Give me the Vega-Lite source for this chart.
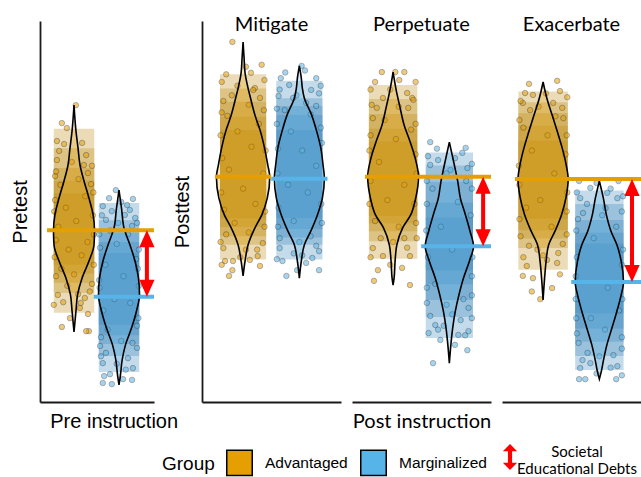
{
"$schema": "https://vega.github.io/schema/vega-lite/v6.json",
"padding": {"left": 10, "top": 15, "right": 0, "bottom": 0},
"config": {
  "view": {"stroke": null},
  "axis": {"labels": false, "ticks": false, "grid": false, "domainColor": "#1a1a1a", "domainWidth": 1.8, "titleFont": "Liberation Sans", "titleFontSize": 20, "titleFontWeight": "normal", "titleColor": "black"}
},
"datasets": {
  "v1": [
    {"g":"A","y":77.95,"lo":1,"hi":1},{"g":"A","y":71.1,"lo":0.956,"hi":1.044},{"g":"A","y":66.7,"lo":0.911,"hi":1.089},{"g":"A","y":62.2,"lo":0.867,"hi":1.133},{"g":"A","y":58,"lo":0.778,"hi":1.222},{"g":"A","y":53.5,"lo":0.667,"hi":1.333},{"g":"A","y":49.3,"lo":0.578,"hi":1.422},{"g":"A","y":45.1,"lo":0.544,"hi":1.456},{"g":"A","y":41.2,"lo":0.556,"hi":1.444},{"g":"A","y":37,"lo":0.667,"hi":1.333},{"g":"A","y":32.5,"lo":0.822,"hi":1.178},{"g":"A","y":28.1,"lo":0.922,"hi":1.078},{"g":"A","y":23.9,"lo":0.956,"hi":1.044},{"g":"A","y":18.4,"lo":1,"hi":1},
    {"g":"M","y":55.6,"lo":2,"hi":2},{"g":"M","y":50.9,"lo":1.944,"hi":2.056},{"g":"M","y":45.7,"lo":1.889,"hi":2.111},{"g":"M","y":41.2,"lo":1.756,"hi":2.244},{"g":"M","y":37,"lo":1.644,"hi":2.356},{"g":"M","y":32.5,"lo":1.567,"hi":2.433},{"g":"M","y":28.1,"lo":1.544,"hi":2.456},{"g":"M","y":23.9,"lo":1.611,"hi":2.389},{"g":"M","y":19.4,"lo":1.722,"hi":2.278},{"g":"M","y":15,"lo":1.856,"hi":2.144},{"g":"M","y":10.8,"lo":1.933,"hi":2.067},{"g":"M","y":7.1,"lo":1.967,"hi":2.033},{"g":"M","y":4.5,"lo":2,"hi":2}
  ],
  "v2": [
    {"g":"A","y":94.5,"lo":1,"hi":1},{"g":"A","y":90.3,"lo":0.982,"hi":1.018},{"g":"A","y":86.4,"lo":0.965,"hi":1.035},{"g":"A","y":82.4,"lo":0.912,"hi":1.088},{"g":"A","y":79.8,"lo":0.868,"hi":1.132},{"g":"A","y":75.3,"lo":0.789,"hi":1.211},{"g":"A","y":71.1,"lo":0.693,"hi":1.307},{"g":"A","y":66.7,"lo":0.619,"hi":1.381},{"g":"A","y":62.2,"lo":0.561,"hi":1.439},{"g":"A","y":59.1,"lo":0.526,"hi":1.474},{"g":"A","y":53.5,"lo":0.57,"hi":1.43},{"g":"A","y":49.1,"lo":0.667,"hi":1.333},{"g":"A","y":45.7,"lo":0.789,"hi":1.211},{"g":"A","y":41.2,"lo":0.912,"hi":1.088},{"g":"A","y":37,"lo":0.965,"hi":1.035},{"g":"A","y":33.1,"lo":1,"hi":1},
    {"g":"M","y":88.2,"lo":2,"hi":2},{"g":"M","y":85,"lo":1.965,"hi":2.035},{"g":"M","y":82.4,"lo":1.947,"hi":2.053},{"g":"M","y":79.8,"lo":1.912,"hi":2.088},{"g":"M","y":75.3,"lo":1.781,"hi":2.219},{"g":"M","y":71.1,"lo":1.693,"hi":2.307},{"g":"M","y":66.7,"lo":1.619,"hi":2.381},{"g":"M","y":62.2,"lo":1.579,"hi":2.421},{"g":"M","y":58.8,"lo":1.556,"hi":2.444},{"g":"M","y":53.5,"lo":1.591,"hi":2.409},{"g":"M","y":49.1,"lo":1.679,"hi":2.321},{"g":"M","y":44.9,"lo":1.795,"hi":2.205},{"g":"M","y":41.2,"lo":1.912,"hi":2.088},{"g":"M","y":37,"lo":1.965,"hi":2.035},{"g":"M","y":32.5,"lo":2,"hi":2}
  ],
  "v3": [
    {"g":"A","y":86.6,"lo":1,"hi":1},{"g":"A","y":81.6,"lo":0.941,"hi":1.059},{"g":"A","y":77.2,"lo":0.875,"hi":1.125},{"g":"A","y":72.7,"lo":0.804,"hi":1.196},{"g":"A","y":68.5,"lo":0.702,"hi":1.298},{"g":"A","y":64,"lo":0.607,"hi":1.393},{"g":"A","y":59.1,"lo":0.548,"hi":1.452},{"g":"A","y":53.5,"lo":0.598,"hi":1.402},{"g":"A","y":49.1,"lo":0.687,"hi":1.313},{"g":"A","y":45.7,"lo":0.83,"hi":1.17},{"g":"A","y":41.2,"lo":0.934,"hi":1.066},{"g":"A","y":37,"lo":0.964,"hi":1.036},{"g":"A","y":32.5,"lo":0.982,"hi":1.018},{"g":"A","y":30.7,"lo":1,"hi":1},
    {"g":"M","y":68.2,"lo":2,"hi":2},{"g":"M","y":62.2,"lo":1.911,"hi":2.089},{"g":"M","y":58,"lo":1.852,"hi":2.148},{"g":"M","y":53.5,"lo":1.804,"hi":2.196},{"g":"M","y":49.1,"lo":1.714,"hi":2.286},{"g":"M","y":44.9,"lo":1.634,"hi":2.366},{"g":"M","y":40.9,"lo":1.571,"hi":2.429},{"g":"M","y":37,"lo":1.643,"hi":2.357},{"g":"M","y":32.5,"lo":1.75,"hi":2.25},{"g":"M","y":28.1,"lo":1.83,"hi":2.17},{"g":"M","y":23.9,"lo":1.893,"hi":2.107},{"g":"M","y":19.4,"lo":1.941,"hi":2.059},{"g":"M","y":15,"lo":1.973,"hi":2.027},{"g":"M","y":10.2,"lo":2,"hi":2}
  ],
  "v4": [
    {"g":"A","y":84,"lo":1,"hi":1},{"g":"A","y":79.8,"lo":0.934,"hi":1.066},{"g":"A","y":75.3,"lo":0.839,"hi":1.161},{"g":"A","y":71.1,"lo":0.75,"hi":1.25},{"g":"A","y":66.7,"lo":0.661,"hi":1.339},{"g":"A","y":62.2,"lo":0.589,"hi":1.411},{"g":"A","y":58.5,"lo":0.554,"hi":1.446},{"g":"A","y":53.5,"lo":0.595,"hi":1.405},{"g":"A","y":49.1,"lo":0.673,"hi":1.327},{"g":"A","y":44.9,"lo":0.786,"hi":1.214},{"g":"A","y":41.2,"lo":0.902,"hi":1.098},{"g":"A","y":37,"lo":0.946,"hi":1.054},{"g":"A","y":32.5,"lo":0.973,"hi":1.027},{"g":"A","y":26.8,"lo":1,"hi":1},
    {"g":"M","y":58,"lo":2,"hi":2},{"g":"M","y":53.5,"lo":1.929,"hi":2.071},{"g":"M","y":49.1,"lo":1.875,"hi":2.125},{"g":"M","y":44.9,"lo":1.795,"hi":2.205},{"g":"M","y":41.2,"lo":1.687,"hi":2.313},{"g":"M","y":37,"lo":1.612,"hi":2.388},{"g":"M","y":31.5,"lo":1.571,"hi":2.429},{"g":"M","y":28.1,"lo":1.612,"hi":2.388},{"g":"M","y":23.9,"lo":1.687,"hi":2.313},{"g":"M","y":19.4,"lo":1.777,"hi":2.223},{"g":"M","y":15,"lo":1.866,"hi":2.134},{"g":"M","y":10.8,"lo":1.929,"hi":2.071},{"g":"M","y":8.1,"lo":1.964,"hi":2.036},{"g":"M","y":6,"lo":2,"hi":2}
  ],
  "c1": [
    {"g":"A","x1":0.55,"x2":1.45,"y1":23.4,"y2":71.7},{"g":"A","x1":0.55,"x2":1.45,"y1":28.6,"y2":66.6},{"g":"A","x1":0.55,"x2":1.45,"y1":31.3,"y2":61.4},{"g":"A","x1":0.55,"x2":1.45,"y1":33.7,"y2":58.1},{"g":"A","x1":0.55,"x2":1.45,"y1":36,"y2":54.8},
    {"g":"M","x1":1.55,"x2":2.45,"y1":7.9,"y2":52.2},{"g":"M","x1":1.55,"x2":2.45,"y1":12.1,"y2":47.7},{"g":"M","x1":1.55,"x2":2.45,"y1":15.2,"y2":44.4},{"g":"M","x1":1.55,"x2":2.45,"y1":17.5,"y2":42},{"g":"M","x1":1.55,"x2":2.45,"y1":20.3,"y2":39.1}
  ],
  "c2": [
    {"g":"A","x1":0.59,"x2":1.41,"y1":37.4,"y2":86},{"g":"A","x1":0.59,"x2":1.41,"y1":41.3,"y2":82.3},{"g":"A","x1":0.59,"x2":1.41,"y1":43.5,"y2":78.8},{"g":"A","x1":0.59,"x2":1.41,"y1":45.9,"y2":74.9},{"g":"A","x1":0.59,"x2":1.41,"y1":48.2,"y2":71.4},
    {"g":"M","x1":1.59,"x2":2.41,"y1":37.4,"y2":84.3},{"g":"M","x1":1.59,"x2":2.41,"y1":41.3,"y2":79.7},{"g":"M","x1":1.59,"x2":2.41,"y1":43.2,"y2":77.7},{"g":"M","x1":1.59,"x2":2.41,"y1":45.4,"y2":75.3},{"g":"M","x1":1.59,"x2":2.41,"y1":48.3,"y2":71.4}
  ],
  "c3": [
    {"g":"A","x1":0.57,"x2":1.43,"y1":37.6,"y2":83.2},{"g":"A","x1":0.57,"x2":1.43,"y1":42.2,"y2":79.5},{"g":"A","x1":0.57,"x2":1.43,"y1":44.8,"y2":75.6},{"g":"A","x1":0.57,"x2":1.43,"y1":46.9,"y2":71.7},{"g":"A","x1":0.57,"x2":1.43,"y1":48.8,"y2":68.4},
    {"g":"M","x1":1.58,"x2":2.42,"y1":16.8,"y2":65.5},{"g":"M","x1":1.58,"x2":2.42,"y1":22.3,"y2":62.1},{"g":"M","x1":1.58,"x2":2.42,"y1":26.8,"y2":57.8},{"g":"M","x1":1.58,"x2":2.42,"y1":30.9,"y2":52.3},{"g":"M","x1":1.58,"x2":2.42,"y1":34.6,"y2":48.4}
  ],
  "c4": [
    {"g":"A","x1":0.56,"x2":1.44,"y1":34.7,"y2":81.5},{"g":"A","x1":0.56,"x2":1.44,"y1":40.4,"y2":78.7},{"g":"A","x1":0.56,"x2":1.44,"y1":42.9,"y2":75.8},{"g":"A","x1":0.56,"x2":1.44,"y1":45.1,"y2":72.5},{"g":"A","x1":0.56,"x2":1.44,"y1":48.1,"y2":68.6},
    {"g":"M","x1":1.57,"x2":2.43,"y1":8.4,"y2":55.5},{"g":"M","x1":1.57,"x2":2.43,"y1":12.1,"y2":52},{"g":"M","x1":1.57,"x2":2.43,"y1":15.8,"y2":47.8},{"g":"M","x1":1.57,"x2":2.43,"y1":19.3,"y2":44.4},{"g":"M","x1":1.57,"x2":2.43,"y1":23.3,"y2":41.6}
  ],
  "p1": [
    {"g":"A","x":1.04,"y":77.9},{"g":"A","x":0.73,"y":73.2},{"g":"A","x":0.84,"y":71.9},{"g":"A","x":0.62,"y":68.5},{"g":"A","x":0.78,"y":67.7},{"g":"A","x":1.18,"y":68},{"g":"A","x":0.67,"y":65.9},{"g":"A","x":1.27,"y":64.8},{"g":"A","x":0.62,"y":63.5},{"g":"A","x":1.22,"y":62.2},{"g":"A","x":1.31,"y":60.1},{"g":"A","x":0.58,"y":59.3},{"g":"A","x":1.38,"y":57.2},{"g":"A","x":0.73,"y":19.7},{"g":"A","x":1.33,"y":18.6},{"g":"A","x":1.27,"y":18.6},{"g":"A","x":0.91,"y":22},{"g":"A","x":1.13,"y":24.7},{"g":"A","x":1.31,"y":23.1},{"g":"A","x":0.76,"y":26.2},{"g":"A","x":1.24,"y":27.3},{"g":"A","x":0.64,"y":28.1},{"g":"A","x":1.09,"y":28.3},{"g":"A","x":0.56,"y":50},{"g":"A","x":1.44,"y":44},{"g":"A","x":0.57,"y":38},{"g":"A","x":1.43,"y":55},{"g":"A","x":0.6,"y":33},{"g":"A","x":1.4,"y":31},
    {"g":"A","x":0.6,"y":60.5},{"g":"A","x":0.95,"y":63},{"g":"A","x":1.4,"y":62},{"g":"A","x":0.7,"y":57},{"g":"A","x":1.1,"y":58.5},{"g":"A","x":0.58,"y":53},{"g":"A","x":1.25,"y":54},{"g":"A","x":0.82,"y":51},{"g":"A","x":1.42,"y":49},{"g":"A","x":0.65,"y":46},{"g":"A","x":1.05,"y":47.5},{"g":"A","x":1.3,"y":42},{"g":"A","x":0.88,"y":40},{"g":"A","x":0.6,"y":42.5},{"g":"A","x":1.17,"y":38.5},{"g":"A","x":1.44,"y":36},{"g":"A","x":0.72,"y":35},{"g":"A","x":1,"y":33.5},{"g":"A","x":1.35,"y":29},{"g":"A","x":0.85,"y":30.5},{"g":"A","x":0.55,"y":25.5},{"g":"A","x":1.15,"y":26},
    {"g":"M","x":1.93,"y":55.6},{"g":"M","x":1.78,"y":53.5},{"g":"M","x":2.31,"y":53.3},{"g":"M","x":1.64,"y":51.4},{"g":"M","x":2.18,"y":51.7},{"g":"M","x":2.24,"y":50.4},{"g":"M","x":1.84,"y":50.1},{"g":"M","x":2.13,"y":49.1},{"g":"M","x":2.36,"y":48.3},{"g":"M","x":1.71,"y":47.8},{"g":"M","x":1.98,"y":47},{"g":"M","x":2.29,"y":46.2},{"g":"M","x":1.64,"y":5},{"g":"M","x":1.84,"y":4.7},{"g":"M","x":1.67,"y":6.8},{"g":"M","x":2.29,"y":5.8},{"g":"M","x":2.09,"y":6},{"g":"M","x":1.8,"y":7.3},{"g":"M","x":2.31,"y":8.9},{"g":"M","x":1.64,"y":10.2},{"g":"M","x":2.2,"y":11.5},{"g":"M","x":1.71,"y":12.9},{"g":"M","x":2.4,"y":14.2},{"g":"M","x":1.58,"y":14.7},{"g":"M","x":1.56,"y":44},{"g":"M","x":2.44,"y":40},{"g":"M","x":1.57,"y":30},{"g":"M","x":2.43,"y":22},{"g":"M","x":1.6,"y":17},{"g":"M","x":2.42,"y":35},
    {"g":"M","x":1.62,"y":49},{"g":"M","x":2.05,"y":52.5},{"g":"M","x":2.4,"y":47},{"g":"M","x":1.8,"y":45},{"g":"M","x":2.2,"y":44},{"g":"M","x":1.58,"y":40.5},{"g":"M","x":1.95,"y":41.5},{"g":"M","x":2.38,"y":37.5},{"g":"M","x":1.7,"y":36},{"g":"M","x":2.1,"y":33},{"g":"M","x":1.56,"y":32},{"g":"M","x":2.44,"y":30.5},{"g":"M","x":1.9,"y":27},{"g":"M","x":2.25,"y":26},{"g":"M","x":1.65,"y":24},{"g":"M","x":2.4,"y":20},{"g":"M","x":1.75,"y":19},{"g":"M","x":2.05,"y":16},{"g":"M","x":2.3,"y":15.5},{"g":"M","x":1.6,"y":12},{"g":"M","x":1.95,"y":10},{"g":"M","x":2.15,"y":8.5}
  ],
  "p2": [
    {"g":"A","x":0.81,"y":94.5},{"g":"A","x":1.33,"y":88.5},{"g":"A","x":1.14,"y":86.4},{"g":"A","x":1.21,"y":82.4},{"g":"A","x":0.65,"y":79},{"g":"A","x":1.3,"y":79.8},{"g":"A","x":0.72,"y":75.1},{"g":"A","x":1.37,"y":76.6},{"g":"A","x":1.18,"y":81.9},{"g":"A","x":0.75,"y":33.1},{"g":"A","x":0.81,"y":34.6},{"g":"A","x":0.68,"y":37},{"g":"A","x":0.82,"y":37},{"g":"A","x":1.3,"y":35.7},{"g":"A","x":1.26,"y":38.3},{"g":"A","x":1.12,"y":37.3},{"g":"A","x":0.65,"y":40.4},{"g":"A","x":1.35,"y":41.7},{"g":"A","x":0.62,"y":84},{"g":"A","x":0.9,"y":83},{"g":"A","x":0.6,"y":70},{"g":"A","x":1.4,"y":66},{"g":"A","x":0.61,"y":55},{"g":"A","x":1.39,"y":50},{"g":"A","x":0.7,"y":44},{"g":"A","x":1.05,"y":40},
    {"g":"A","x":0.7,"y":86},{"g":"A","x":1.05,"y":88},{"g":"A","x":1.38,"y":84.5},{"g":"A","x":0.8,"y":80.5},{"g":"A","x":1.1,"y":78},{"g":"A","x":0.62,"y":76},{"g":"A","x":1.28,"y":73},{"g":"A","x":0.9,"y":71},{"g":"A","x":0.63,"y":64},{"g":"A","x":1.15,"y":67},{"g":"A","x":1.36,"y":60},{"g":"A","x":0.75,"y":61},{"g":"A","x":1,"y":56},{"g":"A","x":0.66,"y":50.5},{"g":"A","x":1.22,"y":52},{"g":"A","x":1.38,"y":46},{"g":"A","x":0.85,"y":47},{"g":"A","x":1.1,"y":44.5},{"g":"A","x":0.6,"y":42},{"g":"A","x":1.25,"y":40},{"g":"A","x":0.95,"y":38},{"g":"A","x":0.62,"y":36},
    {"g":"M","x":2.04,"y":88.2},{"g":"M","x":1.67,"y":85},{"g":"M","x":2.3,"y":85},{"g":"M","x":1.82,"y":83.2},{"g":"M","x":2.21,"y":81.9},{"g":"M","x":1.89,"y":79.8},{"g":"M","x":1.63,"y":80.3},{"g":"M","x":2.3,"y":77.7},{"g":"M","x":1.74,"y":76.6},{"g":"M","x":2.12,"y":78.5},{"g":"M","x":1.77,"y":33.1},{"g":"M","x":1.96,"y":34.6},{"g":"M","x":2.35,"y":34.6},{"g":"M","x":1.7,"y":37},{"g":"M","x":2.23,"y":37.8},{"g":"M","x":2.12,"y":36.5},{"g":"M","x":2.35,"y":39.6},{"g":"M","x":1.65,"y":40.4},{"g":"M","x":2.38,"y":83},{"g":"M","x":1.6,"y":73},{"g":"M","x":2.4,"y":68},{"g":"M","x":1.61,"y":60},{"g":"M","x":2.39,"y":52},{"g":"M","x":1.62,"y":46},{"g":"M","x":1.9,"y":39},{"g":"M","x":2,"y":42},
    {"g":"M","x":1.75,"y":86.5},{"g":"M","x":2.1,"y":87},{"g":"M","x":2.35,"y":81},{"g":"M","x":1.65,"y":82},{"g":"M","x":1.95,"y":80.5},{"g":"M","x":2.2,"y":75.5},{"g":"M","x":1.6,"y":77},{"g":"M","x":1.85,"y":71},{"g":"M","x":2.38,"y":72},{"g":"M","x":2.05,"y":66},{"g":"M","x":1.62,"y":66.5},{"g":"M","x":2.3,"y":62},{"g":"M","x":1.8,"y":57},{"g":"M","x":2.15,"y":55},{"g":"M","x":1.63,"y":51},{"g":"M","x":2.4,"y":47},{"g":"M","x":1.9,"y":47.5},{"g":"M","x":2.2,"y":43.5},{"g":"M","x":1.65,"y":43},{"g":"M","x":2.05,"y":38.5},{"g":"M","x":2.3,"y":41},{"g":"M","x":1.6,"y":37.5}
  ],
  "p3": [
    {"g":"A","x":0.8,"y":86.6},{"g":"A","x":1.04,"y":86.6},{"g":"A","x":1.2,"y":86.6},{"g":"A","x":1.11,"y":84.5},{"g":"A","x":0.82,"y":79.8},{"g":"A","x":1.25,"y":81.1},{"g":"A","x":1.34,"y":79.8},{"g":"A","x":0.71,"y":77.2},{"g":"A","x":1.27,"y":77.2},{"g":"A","x":1.36,"y":79.3},{"g":"A","x":0.64,"y":74.5},{"g":"A","x":0.66,"y":31.8},{"g":"A","x":1.3,"y":30.7},{"g":"A","x":0.73,"y":34.6},{"g":"A","x":1.16,"y":35.2},{"g":"A","x":0.82,"y":38.3},{"g":"A","x":1.3,"y":38.3},{"g":"A","x":0.64,"y":40.4},{"g":"A","x":0.6,"y":82},{"g":"A","x":1.4,"y":73},{"g":"A","x":0.58,"y":66},{"g":"A","x":1.42,"y":60},{"g":"A","x":0.58,"y":52},{"g":"A","x":1.41,"y":47},{"g":"A","x":1,"y":42},{"g":"A","x":1.2,"y":43},
    {"g":"A","x":0.68,"y":84},{"g":"A","x":0.95,"y":82},{"g":"A","x":1.4,"y":84},{"g":"A","x":0.62,"y":78},{"g":"A","x":1.1,"y":77.5},{"g":"A","x":0.85,"y":74},{"g":"A","x":1.32,"y":71.5},{"g":"A","x":0.6,"y":70},{"g":"A","x":1.05,"y":69},{"g":"A","x":1.4,"y":65},{"g":"A","x":0.75,"y":63},{"g":"A","x":1.2,"y":57},{"g":"A","x":0.6,"y":58},{"g":"A","x":0.9,"y":53},{"g":"A","x":1.38,"y":52},{"g":"A","x":0.68,"y":47.5},{"g":"A","x":1.1,"y":46},{"g":"A","x":1.42,"y":43},{"g":"A","x":0.78,"y":43},{"g":"A","x":0.6,"y":38},{"g":"A","x":1.25,"y":40.5},{"g":"A","x":0.95,"y":36},
    {"g":"M","x":1.66,"y":68.2},{"g":"M","x":2.29,"y":66.7},{"g":"M","x":2.23,"y":65.4},{"g":"M","x":1.8,"y":63.5},{"g":"M","x":1.66,"y":62.2},{"g":"M","x":2.32,"y":61.4},{"g":"M","x":2.02,"y":60.9},{"g":"M","x":1.71,"y":10.2},{"g":"M","x":2.32,"y":13.6},{"g":"M","x":1.84,"y":16.3},{"g":"M","x":1.63,"y":18.1},{"g":"M","x":2.16,"y":17.6},{"g":"M","x":2.34,"y":18.6},{"g":"M","x":1.75,"y":20.2},{"g":"M","x":2.2,"y":21.5},{"g":"M","x":1.66,"y":22.6},{"g":"M","x":2.34,"y":24.7},{"g":"M","x":1.6,"y":58},{"g":"M","x":2.4,"y":56},{"g":"M","x":1.59,"y":45},{"g":"M","x":2.41,"y":38},{"g":"M","x":1.6,"y":30},{"g":"M","x":2.4,"y":28},{"g":"M","x":1.9,"y":20},{"g":"M","x":2.05,"y":23},
    {"g":"M","x":1.78,"y":66.5},{"g":"M","x":2.1,"y":64},{"g":"M","x":2.4,"y":62.5},{"g":"M","x":1.62,"y":64.5},{"g":"M","x":1.95,"y":60},{"g":"M","x":2.3,"y":58},{"g":"M","x":1.7,"y":56},{"g":"M","x":2.15,"y":52.5},{"g":"M","x":1.6,"y":52},{"g":"M","x":2.38,"y":49},{"g":"M","x":1.85,"y":46},{"g":"M","x":2.05,"y":40},{"g":"M","x":1.62,"y":38},{"g":"M","x":2.4,"y":33},{"g":"M","x":1.75,"y":31},{"g":"M","x":2.25,"y":27},{"g":"M","x":1.6,"y":26},{"g":"M","x":2.4,"y":22},{"g":"M","x":1.95,"y":25.5},{"g":"M","x":1.8,"y":19},{"g":"M","x":2.1,"y":15},{"g":"M","x":2.28,"y":17.5}
  ],
  "p4": [
    {"g":"A","x":1.25,"y":84.3},{"g":"A","x":0.68,"y":81.1},{"g":"A","x":0.82,"y":80.6},{"g":"A","x":1.3,"y":81.6},{"g":"A","x":0.64,"y":78.5},{"g":"A","x":1.34,"y":77.2},{"g":"A","x":0.77,"y":76.6},{"g":"A","x":1.18,"y":78.5},{"g":"A","x":1.36,"y":74.5},{"g":"A","x":0.95,"y":27},{"g":"A","x":0.64,"y":33.1},{"g":"A","x":0.82,"y":32.5},{"g":"A","x":1.16,"y":29.9},{"g":"A","x":1.25,"y":36.5},{"g":"A","x":0.71,"y":35.7},{"g":"A","x":1.07,"y":37.3},{"g":"A","x":1.27,"y":39.1},{"g":"A","x":0.58,"y":74},{"g":"A","x":1.42,"y":70},{"g":"A","x":0.57,"y":62},{"g":"A","x":1.43,"y":55},{"g":"A","x":0.58,"y":48},{"g":"A","x":1.42,"y":44},{"g":"A","x":0.9,"y":40},{"g":"A","x":0.75,"y":41},
    {"g":"A","x":0.75,"y":83.5},{"g":"A","x":1.05,"y":81},{"g":"A","x":1.43,"y":80},{"g":"A","x":0.6,"y":79},{"g":"A","x":0.92,"y":77.5},{"g":"A","x":1.22,"y":75},{"g":"A","x":0.65,"y":72},{"g":"A","x":1.08,"y":70},{"g":"A","x":1.4,"y":65},{"g":"A","x":0.8,"y":66},{"g":"A","x":0.58,"y":57},{"g":"A","x":1.2,"y":60},{"g":"A","x":0.95,"y":53},{"g":"A","x":1.42,"y":50},{"g":"A","x":0.7,"y":51},{"g":"A","x":1.15,"y":46},{"g":"A","x":0.6,"y":43.5},{"g":"A","x":1.35,"y":41.5},{"g":"A","x":1,"y":38.5},{"g":"A","x":0.65,"y":38},{"g":"A","x":1.3,"y":33.5},{"g":"A","x":0.8,"y":29},
    {"g":"M","x":1.64,"y":58},{"g":"M","x":2.34,"y":58},{"g":"M","x":1.84,"y":56.2},{"g":"M","x":2.14,"y":54.9},{"g":"M","x":1.66,"y":53.5},{"g":"M","x":2.32,"y":53.5},{"g":"M","x":2.11,"y":50.9},{"g":"M","x":1.71,"y":49.6},{"g":"M","x":1.64,"y":6},{"g":"M","x":1.75,"y":6},{"g":"M","x":2.3,"y":6},{"g":"M","x":1.66,"y":8.9},{"g":"M","x":2.32,"y":9.4},{"g":"M","x":1.84,"y":10.2},{"g":"M","x":1.79,"y":12.9},{"g":"M","x":2.25,"y":12.3},{"g":"M","x":1.63,"y":15.5},{"g":"M","x":2.4,"y":50},{"g":"M","x":1.59,"y":45},{"g":"M","x":2.42,"y":40},{"g":"M","x":1.58,"y":33},{"g":"M","x":2.41,"y":27},{"g":"M","x":1.59,"y":22},{"g":"M","x":2.4,"y":17},{"g":"M","x":2,"y":12},
    {"g":"M","x":1.95,"y":57.5},{"g":"M","x":2.2,"y":56},{"g":"M","x":1.6,"y":55},{"g":"M","x":2.42,"y":54},{"g":"M","x":1.78,"y":52},{"g":"M","x":2.05,"y":49},{"g":"M","x":2.3,"y":46},{"g":"M","x":1.62,"y":48},{"g":"M","x":1.9,"y":43},{"g":"M","x":2.4,"y":36},{"g":"M","x":1.6,"y":38},{"g":"M","x":2.15,"y":30},{"g":"M","x":1.58,"y":27},{"g":"M","x":2.35,"y":24},{"g":"M","x":1.85,"y":22},{"g":"M","x":2.1,"y":19},{"g":"M","x":1.6,"y":18},{"g":"M","x":2.4,"y":14},{"g":"M","x":1.7,"y":11},{"g":"M","x":2.2,"y":9},{"g":"M","x":1.95,"y":7.5},{"g":"M","x":2.4,"y":7}
  ],
  "m1": [{"g":"A","x1":0.4,"x2":2.778,"y":45.1},{"g":"M","x1":1.44,"x2":2.778,"y":27.6}],
  "m2": [{"g":"A","x1":0.5,"x2":1.5,"y":59.1},{"g":"M","x1":1.5,"x2":2.5,"y":58.6}],
  "m3": [{"g":"A","x1":0.5,"x2":2.74,"y":59.1},{"g":"M","x1":1.5,"x2":2.74,"y":40.9}],
  "m4": [{"g":"A","x1":0.5,"x2":2.74,"y":58.5},{"g":"M","x1":1.5,"x2":2.74,"y":31.5}],
  "a1": [{"kind":"Debt","x":2.62,"top":45.1,"bot":27.6}],
  "a3": [{"kind":"Debt","x":2.6,"top":59.1,"bot":40.9}],
  "a4": [{"kind":"Debt","x":2.58,"top":58.5,"bot":31.5}],
  "none": []
},
"bounds": "flush",
"spacing": 11,
"hconcat": [
  {
    "width": 114, "height": 381,
    "layer": [
      {"data": {"name": "c1"}, "mark": {"type": "rect", "opacity": 0.3},
       "encoding": {
         "x": {"field": "x1", "type": "quantitative", "scale": {"domain": [0.244, 2.778], "nice": false, "zero": false}, "axis": {"title": "Pre instruction", "titleX": 73.7, "titlePadding": 9}},
         "x2": {"field": "x2"},
         "y": {"field": "y1", "type": "quantitative", "scale": {"domain": [0, 100], "nice": false, "zero": false}, "axis": {"title": "Pretest", "titlePadding": 10}},
         "y2": {"field": "y2"},
         "color": {"field": "g", "type": "nominal", "scale": {"range": ["#BE8A12", "#3A87BE"]}, "legend": null}}},
      {"data": {"name": "none"}, "mark": {"type": "square", "filled": true, "opacity": 1, "stroke": "black", "strokeWidth": 1.5},
       "encoding": {
         "fill": {"field": "g", "type": "nominal", "scale": {"domain": ["A", "M"], "range": ["#E69F00", "#56B4E9"]},
           "legend": {"title": "Group", "orient": "none", "legendX": 122, "legendY": 428, "direction": "horizontal", "titleOrient": "left", "titleFont": "Liberation Sans", "titleFontSize": 19, "titleFontWeight": "normal", "titleColor": "black", "titlePadding": 11, "labelFont": "Liberation Sans", "labelFontSize": 15.5, "labelColor": "black", "labelOffset": 12, "columnPadding": 9, "symbolType": "square", "symbolSize": 650, "symbolStrokeColor": "black", "symbolStrokeWidth": 1.5, "symbolOpacity": 1, "labelExpr": "datum.label == 'A' ? 'Advantaged' : 'Marginalized'"}}}},
      {"data": {"name": "none"}, "mark": {"type": "point", "filled": true, "opacity": 1, "color": "#FF0000"},
       "encoding": {
         "shape": {"field": "kind", "type": "nominal", "scale": {"domain": ["Debt"], "range": ["M0,-1L0.55,-0.45L0.16,-0.45L0.16,0.45L0.55,0.45L0,1L-0.55,0.45L-0.16,0.45L-0.16,-0.45L-0.55,-0.45Z"]},
           "legend": {"title": null, "orient": "none", "legendX": 457, "legendY": 423, "labelExpr": "['Societal', 'Educational Debts']", "labelFont": "Lato", "labelFontSize": 15, "labelColor": "black", "labelAlign": "center", "labelOffset": 54, "labelBaseline": "alphabetic", "symbolSize": 676, "symbolFillColor": "#FF0000", "symbolStrokeWidth": 0, "symbolOpacity": 1}}}},
      {"data": {"name": "p1"}, "transform": [{"filter": "datum.g == 'A'"}], "mark": {"type": "point", "filled": true, "size": 30, "opacity": 0.55, "fill": "#E69F00", "stroke": "#333333", "strokeWidth": 0.7},
       "encoding": {"x": {"field": "x", "type": "quantitative"}, "y": {"field": "y", "type": "quantitative"}}},
      {"data": {"name": "p1"}, "transform": [{"filter": "datum.g == 'M'"}], "mark": {"type": "point", "filled": true, "size": 30, "opacity": 0.55, "fill": "#56B4E9", "stroke": "#333333", "strokeWidth": 0.7},
       "encoding": {"x": {"field": "x", "type": "quantitative"}, "y": {"field": "y", "type": "quantitative"}}},
      {"data": {"name": "v1"}, "transform": [{"filter": "datum.g == 'A'"}], "mark": {"type": "area", "orient": "horizontal", "interpolate": "monotone", "opacity": 0.25, "color": "#E69F00"},
       "encoding": {"y": {"field": "y", "type": "quantitative"}, "x": {"field": "lo", "type": "quantitative"}, "x2": {"field": "hi"}}},
      {"data": {"name": "v1"}, "transform": [{"filter": "datum.g == 'M'"}], "mark": {"type": "area", "orient": "horizontal", "interpolate": "monotone", "opacity": 0.25, "color": "#56B4E9"},
       "encoding": {"y": {"field": "y", "type": "quantitative"}, "x": {"field": "lo", "type": "quantitative"}, "x2": {"field": "hi"}}},
      {"data": {"name": "v1"}, "mark": {"type": "area", "orient": "horizontal", "interpolate": "monotone", "filled": false, "color": "black", "strokeWidth": 1.6},
       "encoding": {"y": {"field": "y", "type": "quantitative"}, "x": {"field": "lo", "type": "quantitative"}, "x2": {"field": "hi"}, "detail": {"field": "g", "type": "nominal"}}},
      {"data": {"name": "m1"}, "mark": {"type": "rule", "strokeWidth": 4},
       "encoding": {"x": {"field": "x1", "type": "quantitative"}, "x2": {"field": "x2"}, "y": {"field": "y", "type": "quantitative"},
         "stroke": {"field": "g", "type": "nominal", "scale": {"range": ["#E69F00", "#56B4E9"]}, "legend": null}}},
      {"data": {"name": "a1"}, "mark": {"type": "rule", "strokeWidth": 4, "color": "#FF0000", "yOffset": 6, "y2Offset": -6},
       "encoding": {"x": {"field": "x", "type": "quantitative"}, "y": {"field": "top", "type": "quantitative"}, "y2": {"field": "bot"}}},
      {"data": {"name": "a1"}, "mark": {"type": "point", "filled": true, "size": 289, "opacity": 1, "color": "#FF0000", "shape": "M0,0L-0.9,2L0.9,2Z"},
       "encoding": {"x": {"field": "x", "type": "quantitative"}, "y": {"field": "top", "type": "quantitative"}}},
      {"data": {"name": "a1"}, "mark": {"type": "point", "filled": true, "size": 289, "opacity": 1, "color": "#FF0000", "shape": "M0,0L-0.9,-2L0.9,-2Z"},
       "encoding": {"x": {"field": "x", "type": "quantitative"}, "y": {"field": "bot", "type": "quantitative"}}}
    ]
  },
  {
    "width": 26, "height": 381,
    "data": {"values": [{"a": 1}]},
    "mark": {"type": "point", "opacity": 0},
    "encoding": {}
  },
  {
    "width": 139, "height": 381,
    "title": {"text": "Mitigate", "font": "Lato", "fontSize": 20, "fontWeight": "normal", "color": "black", "anchor": "middle", "frame": "group", "offset": -14},
    "layer": [
      {"data": {"name": "c2"}, "mark": {"type": "rect", "opacity": 0.3},
       "encoding": {
         "x": {"field": "x1", "type": "quantitative", "scale": {"domain": [0.27, 2.74], "nice": false, "zero": false}, "axis": {"title": null}},
         "x2": {"field": "x2"},
         "y": {"field": "y1", "type": "quantitative", "scale": {"domain": [0, 100], "nice": false, "zero": false}, "axis": {"title": "Posttest", "titlePadding": 10}},
         "y2": {"field": "y2"},
         "color": {"field": "g", "type": "nominal", "legend": null}}},
      {"data": {"name": "p2"}, "transform": [{"filter": "datum.g == 'A'"}], "mark": {"type": "point", "filled": true, "size": 30, "opacity": 0.55, "fill": "#E69F00", "stroke": "#333333", "strokeWidth": 0.7},
       "encoding": {"x": {"field": "x", "type": "quantitative"}, "y": {"field": "y", "type": "quantitative"}}},
      {"data": {"name": "p2"}, "transform": [{"filter": "datum.g == 'M'"}], "mark": {"type": "point", "filled": true, "size": 30, "opacity": 0.55, "fill": "#56B4E9", "stroke": "#333333", "strokeWidth": 0.7},
       "encoding": {"x": {"field": "x", "type": "quantitative"}, "y": {"field": "y", "type": "quantitative"}}},
      {"data": {"name": "v2"}, "transform": [{"filter": "datum.g == 'A'"}], "mark": {"type": "area", "orient": "horizontal", "interpolate": "monotone", "opacity": 0.25, "color": "#E69F00"},
       "encoding": {"y": {"field": "y", "type": "quantitative"}, "x": {"field": "lo", "type": "quantitative"}, "x2": {"field": "hi"}}},
      {"data": {"name": "v2"}, "transform": [{"filter": "datum.g == 'M'"}], "mark": {"type": "area", "orient": "horizontal", "interpolate": "monotone", "opacity": 0.25, "color": "#56B4E9"},
       "encoding": {"y": {"field": "y", "type": "quantitative"}, "x": {"field": "lo", "type": "quantitative"}, "x2": {"field": "hi"}}},
      {"data": {"name": "v2"}, "mark": {"type": "area", "orient": "horizontal", "interpolate": "monotone", "filled": false, "color": "black", "strokeWidth": 1.6},
       "encoding": {"y": {"field": "y", "type": "quantitative"}, "x": {"field": "lo", "type": "quantitative"}, "x2": {"field": "hi"}, "detail": {"field": "g", "type": "nominal"}}},
      {"data": {"name": "m2"}, "mark": {"type": "rule", "strokeWidth": 4},
       "encoding": {"x": {"field": "x1", "type": "quantitative"}, "x2": {"field": "x2"}, "y": {"field": "y", "type": "quantitative"}, "stroke": {"field": "g", "type": "nominal", "legend": null}}}
    ]
  },
  {
    "width": 139, "height": 381,
    "title": {"text": "Perpetuate", "font": "Lato", "fontSize": 20, "fontWeight": "normal", "color": "black", "anchor": "middle", "frame": "group", "offset": -14},
    "layer": [
      {"data": {"name": "c3"}, "mark": {"type": "rect", "opacity": 0.3},
       "encoding": {
         "x": {"field": "x1", "type": "quantitative", "scale": {"domain": [0.27, 2.74], "nice": false, "zero": false}, "axis": {"title": "Post instruction", "titleFont": "Lato", "titlePadding": 9}},
         "x2": {"field": "x2"},
         "y": {"field": "y1", "type": "quantitative", "scale": {"domain": [0, 100], "nice": false, "zero": false}, "axis": null},
         "y2": {"field": "y2"},
         "color": {"field": "g", "type": "nominal", "legend": null}}},
      {"data": {"name": "p3"}, "transform": [{"filter": "datum.g == 'A'"}], "mark": {"type": "point", "filled": true, "size": 30, "opacity": 0.55, "fill": "#E69F00", "stroke": "#333333", "strokeWidth": 0.7},
       "encoding": {"x": {"field": "x", "type": "quantitative"}, "y": {"field": "y", "type": "quantitative"}}},
      {"data": {"name": "p3"}, "transform": [{"filter": "datum.g == 'M'"}], "mark": {"type": "point", "filled": true, "size": 30, "opacity": 0.55, "fill": "#56B4E9", "stroke": "#333333", "strokeWidth": 0.7},
       "encoding": {"x": {"field": "x", "type": "quantitative"}, "y": {"field": "y", "type": "quantitative"}}},
      {"data": {"name": "v3"}, "transform": [{"filter": "datum.g == 'A'"}], "mark": {"type": "area", "orient": "horizontal", "interpolate": "monotone", "opacity": 0.25, "color": "#E69F00"},
       "encoding": {"y": {"field": "y", "type": "quantitative"}, "x": {"field": "lo", "type": "quantitative"}, "x2": {"field": "hi"}}},
      {"data": {"name": "v3"}, "transform": [{"filter": "datum.g == 'M'"}], "mark": {"type": "area", "orient": "horizontal", "interpolate": "monotone", "opacity": 0.25, "color": "#56B4E9"},
       "encoding": {"y": {"field": "y", "type": "quantitative"}, "x": {"field": "lo", "type": "quantitative"}, "x2": {"field": "hi"}}},
      {"data": {"name": "v3"}, "mark": {"type": "area", "orient": "horizontal", "interpolate": "monotone", "filled": false, "color": "black", "strokeWidth": 1.6},
       "encoding": {"y": {"field": "y", "type": "quantitative"}, "x": {"field": "lo", "type": "quantitative"}, "x2": {"field": "hi"}, "detail": {"field": "g", "type": "nominal"}}},
      {"data": {"name": "m3"}, "mark": {"type": "rule", "strokeWidth": 4},
       "encoding": {"x": {"field": "x1", "type": "quantitative"}, "x2": {"field": "x2"}, "y": {"field": "y", "type": "quantitative"}, "stroke": {"field": "g", "type": "nominal", "legend": null}}},
      {"data": {"name": "a3"}, "mark": {"type": "rule", "strokeWidth": 4, "color": "#FF0000", "yOffset": 6, "y2Offset": -6},
       "encoding": {"x": {"field": "x", "type": "quantitative"}, "y": {"field": "top", "type": "quantitative"}, "y2": {"field": "bot"}}},
      {"data": {"name": "a3"}, "mark": {"type": "point", "filled": true, "size": 289, "opacity": 1, "color": "#FF0000", "shape": "M0,0L-0.9,2L0.9,2Z"},
       "encoding": {"x": {"field": "x", "type": "quantitative"}, "y": {"field": "top", "type": "quantitative"}}},
      {"data": {"name": "a3"}, "mark": {"type": "point", "filled": true, "size": 289, "opacity": 1, "color": "#FF0000", "shape": "M0,0L-0.9,-2L0.9,-2Z"},
       "encoding": {"x": {"field": "x", "type": "quantitative"}, "y": {"field": "bot", "type": "quantitative"}}}
    ]
  },
  {
    "width": 139, "height": 381,
    "title": {"text": "Exacerbate", "font": "Lato", "fontSize": 20, "fontWeight": "normal", "color": "black", "anchor": "middle", "frame": "group", "offset": -14},
    "layer": [
      {"data": {"name": "c4"}, "mark": {"type": "rect", "opacity": 0.3},
       "encoding": {
         "x": {"field": "x1", "type": "quantitative", "scale": {"domain": [0.27, 2.74], "nice": false, "zero": false}, "axis": {"title": null}},
         "x2": {"field": "x2"},
         "y": {"field": "y1", "type": "quantitative", "scale": {"domain": [0, 100], "nice": false, "zero": false}, "axis": null},
         "y2": {"field": "y2"},
         "color": {"field": "g", "type": "nominal", "legend": null}}},
      {"data": {"name": "p4"}, "transform": [{"filter": "datum.g == 'A'"}], "mark": {"type": "point", "filled": true, "size": 30, "opacity": 0.55, "fill": "#E69F00", "stroke": "#333333", "strokeWidth": 0.7},
       "encoding": {"x": {"field": "x", "type": "quantitative"}, "y": {"field": "y", "type": "quantitative"}}},
      {"data": {"name": "p4"}, "transform": [{"filter": "datum.g == 'M'"}], "mark": {"type": "point", "filled": true, "size": 30, "opacity": 0.55, "fill": "#56B4E9", "stroke": "#333333", "strokeWidth": 0.7},
       "encoding": {"x": {"field": "x", "type": "quantitative"}, "y": {"field": "y", "type": "quantitative"}}},
      {"data": {"name": "v4"}, "transform": [{"filter": "datum.g == 'A'"}], "mark": {"type": "area", "orient": "horizontal", "interpolate": "monotone", "opacity": 0.25, "color": "#E69F00"},
       "encoding": {"y": {"field": "y", "type": "quantitative"}, "x": {"field": "lo", "type": "quantitative"}, "x2": {"field": "hi"}}},
      {"data": {"name": "v4"}, "transform": [{"filter": "datum.g == 'M'"}], "mark": {"type": "area", "orient": "horizontal", "interpolate": "monotone", "opacity": 0.25, "color": "#56B4E9"},
       "encoding": {"y": {"field": "y", "type": "quantitative"}, "x": {"field": "lo", "type": "quantitative"}, "x2": {"field": "hi"}}},
      {"data": {"name": "v4"}, "mark": {"type": "area", "orient": "horizontal", "interpolate": "monotone", "filled": false, "color": "black", "strokeWidth": 1.6},
       "encoding": {"y": {"field": "y", "type": "quantitative"}, "x": {"field": "lo", "type": "quantitative"}, "x2": {"field": "hi"}, "detail": {"field": "g", "type": "nominal"}}},
      {"data": {"name": "m4"}, "mark": {"type": "rule", "strokeWidth": 4},
       "encoding": {"x": {"field": "x1", "type": "quantitative"}, "x2": {"field": "x2"}, "y": {"field": "y", "type": "quantitative"}, "stroke": {"field": "g", "type": "nominal", "legend": null}}},
      {"data": {"name": "a4"}, "mark": {"type": "rule", "strokeWidth": 4, "color": "#FF0000", "yOffset": 6, "y2Offset": -6},
       "encoding": {"x": {"field": "x", "type": "quantitative"}, "y": {"field": "top", "type": "quantitative"}, "y2": {"field": "bot"}}},
      {"data": {"name": "a4"}, "mark": {"type": "point", "filled": true, "size": 289, "opacity": 1, "color": "#FF0000", "shape": "M0,0L-0.9,2L0.9,2Z"},
       "encoding": {"x": {"field": "x", "type": "quantitative"}, "y": {"field": "top", "type": "quantitative"}}},
      {"data": {"name": "a4"}, "mark": {"type": "point", "filled": true, "size": 289, "opacity": 1, "color": "#FF0000", "shape": "M0,0L-0.9,-2L0.9,-2Z"},
       "encoding": {"x": {"field": "x", "type": "quantitative"}, "y": {"field": "bot", "type": "quantitative"}}}
    ]
  }
]
}
